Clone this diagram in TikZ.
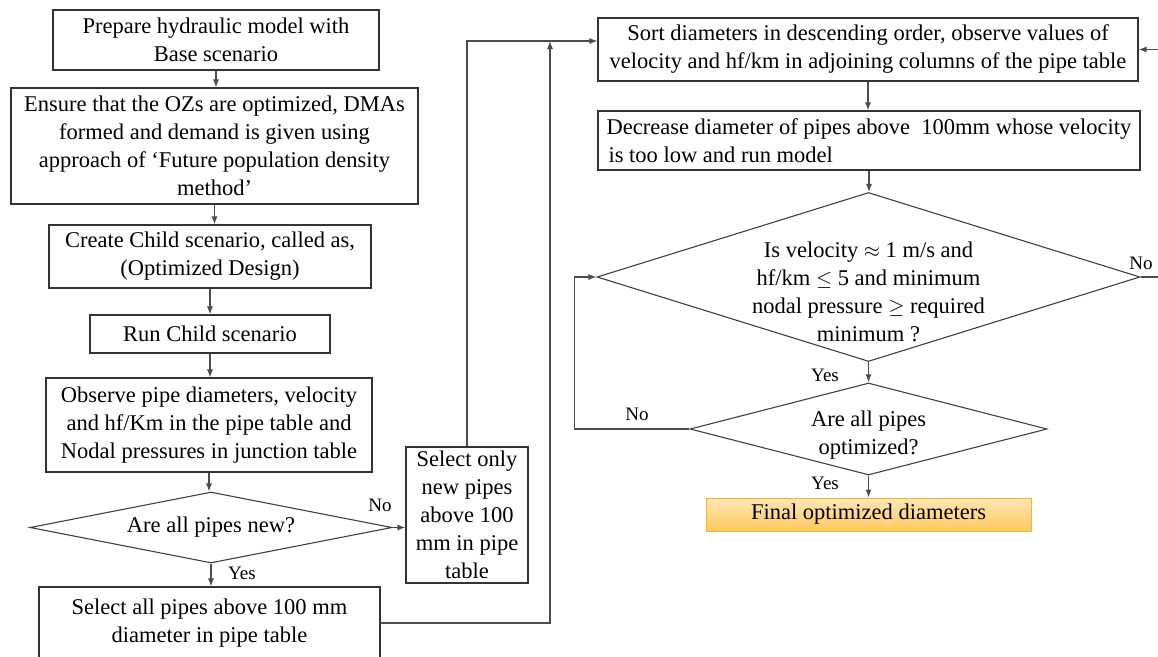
\documentclass[tikz,border=0pt]{standalone}
\usepackage{fontspec}
\setmainfont{Liberation Serif}
\usetikzlibrary{shapes.geometric,arrows.meta}
\definecolor{finlight}{HTML}{FFE7B4}
\definecolor{findark}{HTML}{FFC95E}
\definecolor{finedge}{HTML}{F5B82A}
\begin{document}
\begin{tikzpicture}[x=1pt,y=-1pt,
  font=\fontsize{22.5}{28}\selectfont,
  stepbox/.style={draw=black!80, line width=1.1pt, align=center, inner sep=0pt},
  decision/.style={diamond, draw=black!75, line width=1.1pt, inner sep=0pt, aspect=1},
  link/.style={draw=black!70, line width=1.1pt, -{Latex[length=8pt,width=6pt]}},
  tag/.style={font=\fontsize{19}{20}\selectfont, inner sep=0pt}
]
\useasboundingbox (0,0) rectangle (1158,656);

% left column
\node[stepbox, minimum width=326pt, minimum height=60pt] (b1) at (216,40)
  {Prepare hydraulic model with\\Base scenario};
\node[stepbox, minimum width=407pt, minimum height=116pt] (b2) at (214.5,146)
  {Ensure that the OZs are optimized, DMAs\\formed and demand is given using\\approach of `Future population density\\method'};
\node[stepbox, minimum width=322pt, minimum height=63pt] (b3) at (210,256.5)
  {Create Child scenario, called as,\\(Optimized Design)};
\node[stepbox, minimum width=240pt, minimum height=38pt] (b4) at (210,334)
  {Run Child scenario};
\node[stepbox, minimum width=326pt, minimum height=94pt] (b5) at (209,425)
  {Observe pipe diameters, velocity\\and hf/Km in the pipe table and\\Nodal pressures in junction table};
\node[decision, minimum width=362pt, minimum height=71pt,
  label={center:{Are all pipes new?}}] (d1) at (211,527.5) {};
\node[stepbox, minimum width=341pt, minimum height=72pt] (ball) at (209.5,623)
  {Select all pipes above 100 mm\\diameter in pipe table};
\node[stepbox, minimum width=122pt, minimum height=136pt] (sel) at (467,515)
  {Select only\\new pipes\\above 100\\mm in pipe\\table};

% right column
\node[stepbox, minimum width=540pt, minimum height=63pt] (sort) at (868,49.5)
  {Sort diameters in descending order, observe values of\\velocity and hf/km in adjoining columns of the pipe table};
\node[stepbox, align=left, minimum width=542pt, minimum height=59pt] (dec) at (869,140.5)
  {Decrease diameter of pipes above \ 100mm whose velocity\\\hspace*{2pt}is too low and run model};
\node[decision, minimum width=543pt, minimum height=169pt,
  label={[align=center, yshift=-15pt]center:{Is velocity $\approx$ 1 m/s and\\hf/km $\leq$ 5 and minimum\\nodal pressure $\geq$ required\\minimum ?}}] (d2) at (868.5,277) {};
\node[decision, minimum width=357pt, minimum height=92pt,
  label={[align=center, yshift=-6pt]center:{Are all pipes\\optimized?}}] (d3) at (868.5,429) {};
\node[draw=finedge, line width=1pt, top color=finlight, bottom color=findark,
  minimum width=325pt, minimum height=33pt, inner sep=0pt] (fin) at (868.5,514.5)
  {Final optimized diameters};

% connectors, left column
\draw[link] (b1.south) -- (b1.south |- b2.north);
\draw[link] (b2.south) -- (b2.south |- b3.north);
\draw[link] (b3.south) -- (b3.south |- b4.north);
\draw[link] (b4.south) -- (b4.south |- b5.north);
\draw[link] (b5.south) -- (b5.south |- d1.north);
\draw[link] (d1.south) -- (d1.south |- ball.north);
\draw[link] (d1.east) -- (d1.east -| sel.west);
\node[tag] (yes1) at (242,573) {Yes};
\node[tag] (no1) at (380,505) {No};

% feeds into the sort step
\coordinate (join) at (550,41);
\draw[link] (sel.north) |- ([yshift=8.5pt]sort.west);
\draw[link] (ball.east) -| (join);

% connectors, right column
\draw[link] (sort.south) -- (sort.south |- dec.north);
\draw[link] (dec.south) -- (dec.south |- d2.north);
\draw[link] (d2.south) -- (d2.south |- d3.north);
\draw[link] (d3.south) -- (d3.south |- fin.north);
\draw[link] (d3.west) -- ++(-115,0) |- (d2.west);
\draw[link] (d2.east) -- (1180,277) |- (sort.east);
\node[tag] (yes2) at (825,375) {Yes};
\node[tag] (yes3) at (825,483) {Yes};
\node[tag] (no2) at (637,414) {No};
\node[tag] (no3) at (1141,263) {No};
\end{tikzpicture}
\end{document}
